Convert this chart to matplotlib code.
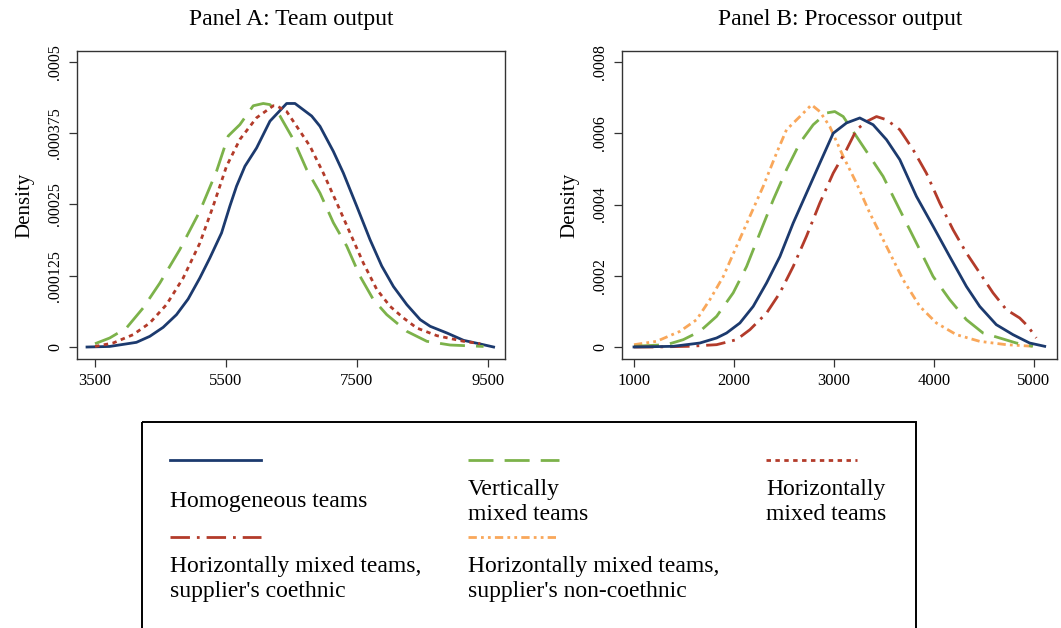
import matplotlib
matplotlib.use('Agg')
import matplotlib.pyplot as plt
from matplotlib.lines import Line2D
from matplotlib.patches import Rectangle

plt.rcParams['font.family'] = ['Liberation Serif', 'DejaVu Serif']

# Panel A: team output densities
a_homog_x = [3378, 3724, 4132, 4336, 4540, 4744, 4922, 5100, 5253, 5432, 5559, 5661, 5789, 5967,
             6171, 6426, 6553, 6808, 6935, 7139, 7292, 7496, 7700, 7878, 8057, 8261, 8465, 8618,
             8873, 9128, 9382, 9586]
a_homog_y = [0, 1.0e-6, 8.2e-6, 1.87e-5, 3.45e-5, 5.67e-5, 8.42e-5, 1.21e-4, 1.56e-4, 2.0e-4,
             2.47e-4, 2.82e-4, 3.17e-4, 3.49e-4, 3.96e-4, 4.27e-4, 4.27e-4, 4.05e-4, 3.87e-4,
             3.43e-4, 3.05e-4, 2.47e-4, 1.88e-4, 1.42e-4, 1.06e-4, 7.43e-5, 4.8e-5, 3.63e-5,
             2.46e-5, 1.17e-5, 5.3e-6, 0]

a_vert_x = [3500, 3724, 3979, 4234, 4489, 4795, 5100, 5355, 5534, 5712, 5916, 6069, 6171, 6324,
            6528, 6732, 6935, 7139, 7343, 7547, 7751, 7955, 8261, 8567, 8924, 9433]
a_vert_y = [5.8e-6, 1.58e-5, 3.33e-5, 6.84e-5, 1.12e-4, 1.71e-4, 2.38e-4, 3.08e-4, 3.7e-4, 3.9e-4,
            4.23e-4, 4.27e-4, 4.25e-4, 4.05e-4, 3.64e-4, 3.11e-4, 2.7e-4, 2.18e-4, 1.77e-4,
            1.24e-4, 8.3e-5, 5.67e-5, 2.75e-5, 1.0e-5, 3.5e-6, 1.0e-6]

a_horiz_x = [3500, 3775, 4081, 4336, 4591, 4846, 5100, 5304, 5508, 5712, 5967, 6222, 6273, 6426,
             6579, 6783, 6986, 7190, 7394, 7598, 7802, 8006, 8210, 8414, 8720, 9128, 9382]
a_horiz_y = [1.0e-6, 7.0e-6, 2.16e-5, 4.21e-5, 7.43e-5, 1.21e-4, 1.82e-4, 2.47e-4, 3.17e-4,
             3.64e-4, 4.02e-4, 4.23e-4, 4.23e-4, 4.13e-4, 3.87e-4, 3.52e-4, 3.05e-4, 2.53e-4,
             2.0e-4, 1.47e-4, 1.01e-4, 7.13e-5, 5.09e-5, 3.33e-5, 1.99e-5, 1.0e-5, 5.8e-6]

# Panel B: processor output densities
b_homog_x = [1000, 1393, 1659, 1826, 1926, 2059, 2192, 2326, 2459, 2592, 2725, 2858, 2992, 3125,
             3258, 3391, 3525, 3658, 3824, 3991, 4157, 4324, 4457, 4623, 4790, 4956, 5107]
b_homog_y = [0, 1.9e-6, 1.12e-5, 2.53e-5, 3.93e-5, 6.74e-5, 1.14e-4, 1.8e-4, 2.54e-4, 3.48e-4,
             4.32e-4, 5.16e-4, 6.0e-4, 6.29e-4, 6.43e-4, 6.24e-4, 5.82e-4, 5.26e-4, 4.23e-4,
             3.39e-4, 2.54e-4, 1.7e-4, 1.14e-4, 6.27e-5, 3.46e-5, 1.12e-5, 1.9e-6]

b_vert_x = [1000, 1326, 1493, 1659, 1826, 1992, 2126, 2259, 2392, 2525, 2659, 2792, 2925, 3008,
            3092, 3225, 3358, 3491, 3658, 3824, 3991, 4157, 4324, 4490, 4657, 4823, 4990]
b_vert_y = [2.0e-6, 6.5e-6, 2.06e-5, 4.4e-5, 8.6e-5, 1.52e-4, 2.26e-4, 3.2e-4, 4.13e-4, 4.98e-4,
            5.73e-4, 6.24e-4, 6.57e-4, 6.61e-4, 6.47e-4, 5.91e-4, 5.35e-4, 4.79e-4, 3.85e-4,
            2.92e-4, 1.98e-4, 1.33e-4, 7.67e-5, 3.93e-5, 2.53e-5, 1.12e-5, 2.0e-6]

b_coeth_x = [1000, 1226, 1559, 1826, 2026, 2159, 2326, 2459, 2592, 2725, 2858, 2992, 3125, 3225,
             3325, 3425, 3525, 3658, 3791, 3924, 4058, 4191, 4324, 4457, 4590, 4723, 4857, 4940,
             5023]
b_coeth_y = [0, 0, 2.0e-6, 6.5e-6, 2.06e-5, 4.86e-5, 9.54e-5, 1.52e-4, 2.26e-4, 3.11e-4,
             4.04e-4, 4.88e-4, 5.54e-4, 6.1e-4, 6.33e-4, 6.47e-4, 6.38e-4, 6.1e-4, 5.54e-4,
             4.88e-4, 4.04e-4, 3.29e-4, 2.64e-4, 2.08e-4, 1.52e-4, 1.05e-4, 8.14e-5, 5.8e-5,
             2.53e-5]

b_noncoeth_x = [1000, 1226, 1460, 1626, 1759, 1893, 2026, 2159, 2292, 2425, 2525, 2659, 2775,
                2858, 2958, 3092, 3225, 3358, 3524, 3691, 3858, 4024, 4224, 4457, 4723, 4990]
b_noncoeth_y = [6.5e-6, 1.59e-5, 4.4e-5, 7.67e-5, 1.33e-4, 1.98e-4, 2.83e-4, 3.67e-4, 4.51e-4,
                5.44e-4, 6.1e-4, 6.47e-4, 6.8e-4, 6.61e-4, 6.19e-4, 5.35e-4, 4.6e-4, 3.76e-4,
                2.83e-4, 1.89e-4, 1.14e-4, 6.74e-5, 3.46e-5, 1.59e-5, 6.5e-6, 2.0e-6]

a_yticks = [0, 0.000125, 0.00025, 0.000375, 0.0005]
a_yticklabels = ['0', '.000125', '.00025', '.000375', '.0005']
a_xticks = [3500, 5500, 7500, 9500]
b_yticks = [0, 0.0002, 0.0004, 0.0006, 0.0008]
b_yticklabels = ['0', '.0002', '.0004', '.0006', '.0008']
b_xticks = [1000, 2000, 3000, 4000, 5000]

NAVY = '#1c3a6e'
GREEN = '#7cb24a'
RED = '#b33b2a'
ORANGE = '#f9a75a'

STYLES = {
    'homog': dict(color=NAVY, lw=2.0, ls='-'),
    'vert': dict(color=GREEN, lw=2.0, ls=(0, (9, 4))),
    'horiz': dict(color=RED, lw=2.0, ls=(0, (1.6, 1.6))),
    'coeth': dict(color=RED, lw=2.0, ls=(0, (7, 2.5, 1, 2.5))),
    'noncoeth': dict(color=ORANGE, lw=2.0, ls=(0, (3, 1.5, 1, 1.5, 1, 1.5))),
}

W, H = 1061, 628
fig = plt.figure(figsize=(W / 100, H / 100), dpi=100)


def fx(px):
    return px / W


def fy(py):
    return 1 - py / H


def style_axes(ax, xticks, yticks, yticklabels):
    ax.set_xticks(xticks)
    ax.set_xticklabels([str(t) for t in xticks], fontsize=12)
    ax.set_yticks(yticks)
    ax.set_yticklabels(yticklabels, fontsize=11.5, rotation=90, va='center')
    ax.tick_params(direction='out', length=6, width=0.9, color='#333333', pad=4)
    for s in ax.spines.values():
        s.set_linewidth(1.0)
        s.set_color('#333333')
    ax.set_ylabel('Density', fontsize=15, labelpad=9)


axA = fig.add_axes([fx(77), fy(359), fx(505 - 77), (359 - 51) / H])
axA.plot(a_homog_x, a_homog_y, **STYLES['homog'])
axA.plot(a_vert_x, a_vert_y, **STYLES['vert'])
axA.plot(a_horiz_x, a_horiz_y, **STYLES['horiz'])
axA.set_xlim(3225, 9760)
axA.set_ylim(-0.000021, 0.000519)
style_axes(axA, a_xticks, a_yticks, a_yticklabels)

axB = fig.add_axes([fx(622), fy(359), fx(1057 - 622), (359 - 51) / H])
axB.plot(b_noncoeth_x, b_noncoeth_y, **STYLES['noncoeth'])
axB.plot(b_vert_x, b_vert_y, **STYLES['vert'])
axB.plot(b_coeth_x, b_coeth_y, **STYLES['coeth'])
axB.plot(b_homog_x, b_homog_y, **STYLES['homog'])
axB.set_xlim(880, 5230)
axB.set_ylim(-0.0000337, 0.000831)
style_axes(axB, b_xticks, b_yticks, b_yticklabels)

fig.text(fx(291), fy(20), 'Panel A: Team output', ha='center', va='center', fontsize=17)
fig.text(fx(840), fy(20), 'Panel B: Processor output', ha='center', va='center', fontsize=17)

# legend box
leg = fig.add_axes([0, 0, 1, 1], facecolor='none')
leg.set_xlim(0, W)
leg.set_ylim(H, 0)
leg.axis('off')
leg.add_patch(Rectangle((142, 422), 916 - 142, 240, fill=False, lw=1.4, ec='black'))

entries = [
    ('homog', 170, 460, 'Homogeneous teams', 502),
    ('vert', 468, 460, 'Vertically\nmixed teams', 502),
    ('horiz', 766, 460, 'Horizontally\nmixed teams', 502),
    ('coeth', 170, 537, "Horizontally mixed teams,\nsupplier's coethnic", 579),
    ('noncoeth', 468, 537, "Horizontally mixed teams,\nsupplier's non-coethnic", 579),
]
for key, x0, yl, label, yt in entries:
    leg.add_line(Line2D([x0, x0 + 91], [yl, yl], **STYLES[key]))
    leg.text(x0, yt, label, ha='left', va='center', fontsize=17, linespacing=1.2)

fig.savefig('out.png', dpi=100)
